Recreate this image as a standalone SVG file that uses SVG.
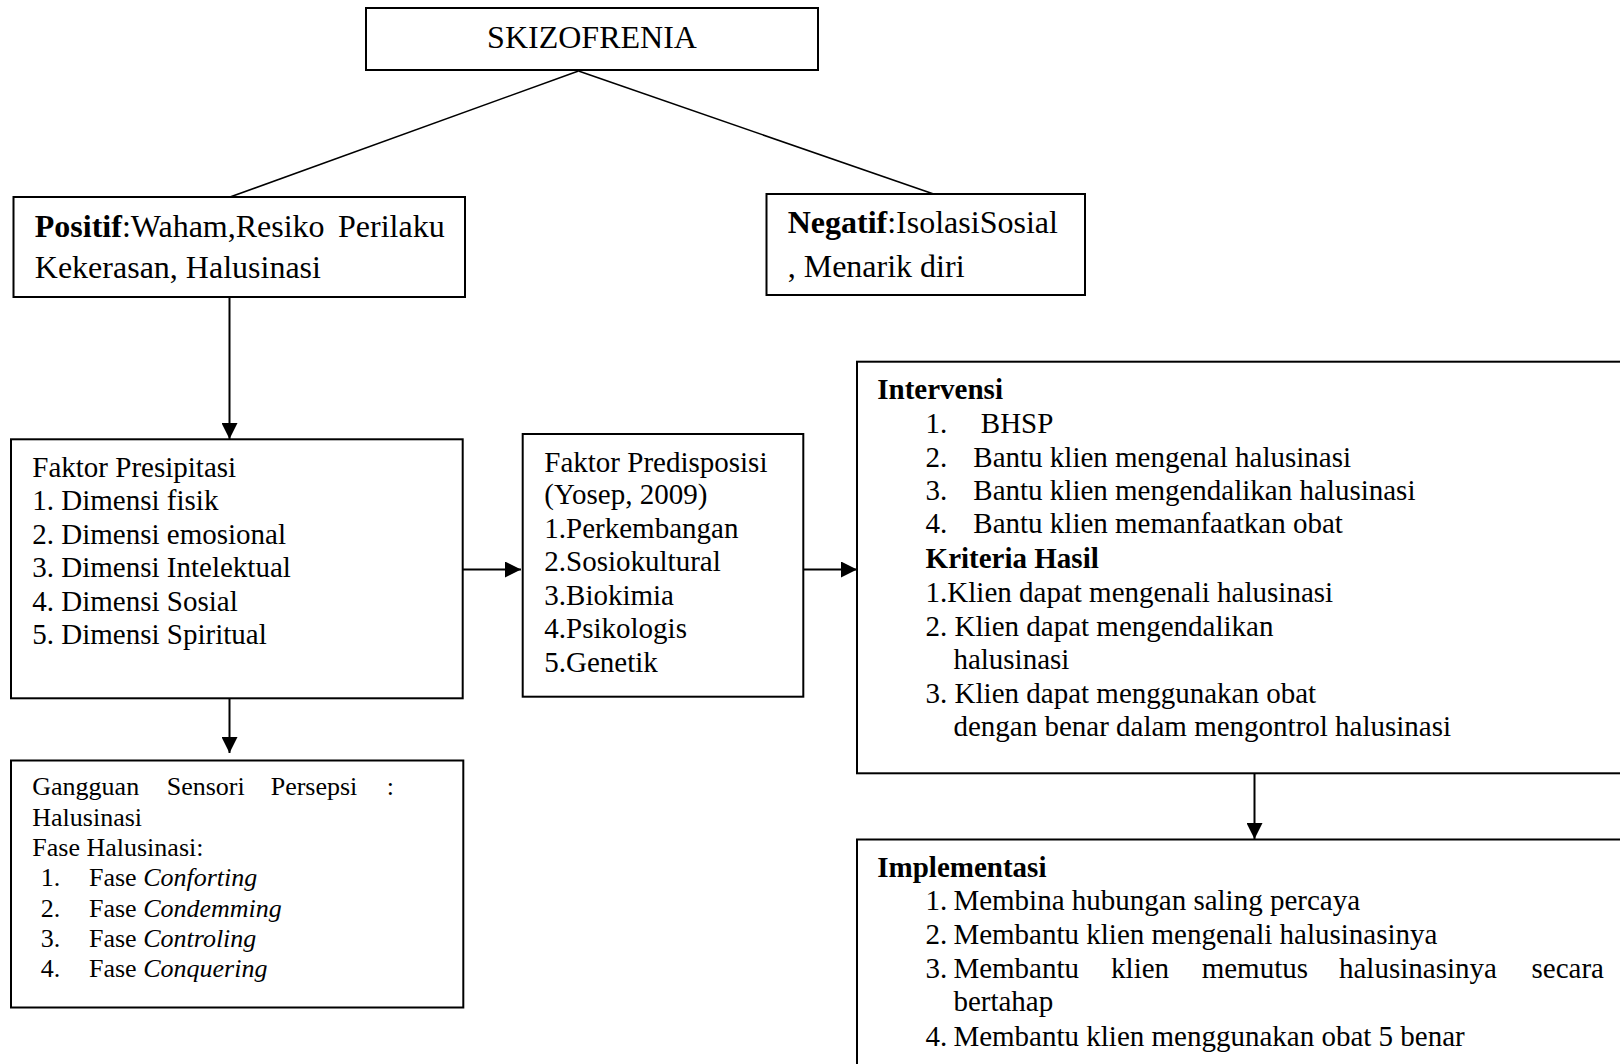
<svg xmlns="http://www.w3.org/2000/svg" width="1620" height="1064" viewBox="0 0 1620 1064">
<defs>
<marker id="arr" markerUnits="userSpaceOnUse" markerWidth="16" markerHeight="16" refX="16" refY="8" orient="auto">
<path d="M0,0 L16,8 L0,16 z" fill="#000"/>
</marker>
<style>
.box{fill:#fff;stroke:#000;stroke-width:2}
.t{font-family:"Liberation Serif","Times New Roman",serif;fill:#000}
.big{font-size:32px}
.mid{font-size:29px}
.sm{font-size:26px}
.b{font-weight:bold}
.i{font-style:italic}
.ln{stroke:#000;stroke-width:1.6;fill:none}
.ar{stroke:#000;stroke-width:2;fill:none;marker-end:url(#arr)}
</style>
</defs>
<rect width="1620" height="1064" fill="#fff"/>

<g id="connectors">
<line class="ln" x1="578.5" y1="71" x2="230" y2="197"/>
<line class="ln" x1="578.5" y1="71" x2="933.6" y2="194"/>
<line class="ar" x1="229.5" y1="297" x2="229.5" y2="439"/>
<line class="ar" x1="463" y1="569.5" x2="521" y2="569.5"/>
<line class="ar" x1="803.5" y1="569.5" x2="857" y2="569.5"/>
<line class="ar" x1="229.5" y1="698" x2="229.5" y2="753"/>
<line class="ar" x1="1254.5" y1="773" x2="1254.5" y2="839"/>
</g>

<g id="skizofrenia">
<rect class="box" x="366" y="8" width="452" height="62"/>
<text class="t big" x="592" y="48.3" text-anchor="middle">SKIZOFRENIA</text>
</g>

<g id="positif">
<rect class="box" x="13.5" y="197" width="451.5" height="100"/>
<text class="t big" y="236.5"><tspan x="34.8"><tspan class="b">Positif</tspan>:Waham,Resiko</tspan><tspan x="338">Perilaku</tspan></text>
<text class="t big" x="34.8" y="278.3">Kekerasan, Halusinasi</text>
</g>

<g id="negatif">
<rect class="box" x="766.5" y="194" width="318.5" height="101"/>
<text class="t big" x="787.7" y="233.3"><tspan class="b">Negatif</tspan>:IsolasiSosial</text>
<text class="t big" x="787.7" y="276.7">, Menarik diri</text>
</g>

<g id="presipitasi">
<rect class="box" x="11" y="439.3" width="451.7" height="259"/>
<text class="t mid" x="32.3" y="476.7">Faktor Presipitasi</text>
<text class="t mid" x="32.3" y="510">1. Dimensi fisik</text>
<text class="t mid" x="32.3" y="543.5">2. Dimensi emosional</text>
<text class="t mid" x="32.3" y="577">3. Dimensi Intelektual</text>
<text class="t mid" x="32.3" y="610.5">4. Dimensi Sosial</text>
<text class="t mid" x="32.3" y="644">5. Dimensi Spiritual</text>
</g>

<g id="predisposisi">
<rect class="box" x="522.7" y="434" width="280.6" height="262.7"/>
<text class="t mid" x="544.3" y="471.7">Faktor Predisposisi</text>
<text class="t mid" x="544.3" y="504">(Yosep, 2009)</text>
<text class="t mid" x="544.3" y="537.5">1.Perkembangan</text>
<text class="t mid" x="544.3" y="571">2.Sosiokultural</text>
<text class="t mid" x="544.3" y="604.5">3.Biokimia</text>
<text class="t mid" x="544.3" y="638">4.Psikologis</text>
<text class="t mid" x="544.3" y="671.5">5.Genetik</text>
</g>

<g id="gangguan">
<rect class="box" x="11" y="760.5" width="452.3" height="247"/>
<text class="t sm" y="795"><tspan x="32.3">Gangguan</tspan><tspan x="166.7">Sensori</tspan><tspan x="270.7">Persepsi</tspan><tspan x="386.7">:</tspan></text>
<text class="t sm" x="32.3" y="825.5">Halusinasi</text>
<text class="t sm" x="32.3" y="856">Fase Halusinasi:</text>
<text class="t sm" y="886"><tspan x="40.7">1.</tspan><tspan x="89">Fase <tspan class="i">Conforting</tspan></tspan></text>
<text class="t sm" y="916.5"><tspan x="40.7">2.</tspan><tspan x="89">Fase <tspan class="i">Condemming</tspan></tspan></text>
<text class="t sm" y="947"><tspan x="40.7">3.</tspan><tspan x="89">Fase <tspan class="i">Controling</tspan></tspan></text>
<text class="t sm" y="977.3"><tspan x="40.7">4.</tspan><tspan x="89">Fase <tspan class="i">Conquering</tspan></tspan></text>
</g>

<g id="intervensi">
<rect class="box" x="857" y="361.7" width="780" height="411.6"/>
<text class="t mid b" x="877.3" y="399.3">Intervensi</text>
<text class="t mid" y="432.7"><tspan x="925.6">1.</tspan><tspan x="980.8">BHSP</tspan></text>
<text class="t mid" y="466.7"><tspan x="925.6">2.</tspan><tspan x="973.3">Bantu klien mengenal halusinasi</tspan></text>
<text class="t mid" y="500"><tspan x="925.6">3.</tspan><tspan x="973.3">Bantu klien mengendalikan halusinasi</tspan></text>
<text class="t mid" y="533.3"><tspan x="925.6">4.</tspan><tspan x="973.3">Bantu klien memanfaatkan obat</tspan></text>
<text class="t mid b" x="925.6" y="568.3">Kriteria Hasil</text>
<text class="t mid" x="925.6" y="601.7">1.Klien dapat mengenali halusinasi</text>
<text class="t mid" x="925.6" y="635.5">2. Klien dapat mengendalikan</text>
<text class="t mid" x="953.4" y="668.5">halusinasi</text>
<text class="t mid" x="925.6" y="702.5">3. Klien dapat menggunakan obat</text>
<text class="t mid" x="953.4" y="736">dengan benar dalam mengontrol halusinasi</text>
</g>

<g id="implementasi">
<rect class="box" x="857" y="839.5" width="780" height="260"/>
<text class="t mid b" x="877.3" y="876.7">Implementasi</text>
<text class="t mid" y="910"><tspan x="925.6">1.</tspan><tspan x="953.4">Membina hubungan saling percaya</tspan></text>
<text class="t mid" y="944.3"><tspan x="925.6">2.</tspan><tspan x="953.4">Membantu klien mengenali halusinasinya</tspan></text>
<text class="t mid" y="978.3"><tspan x="925.6">3.</tspan><tspan x="953.4">Membantu</tspan><tspan x="1111.1">klien</tspan><tspan x="1201.7">memutus</tspan><tspan x="1339">halusinasinya</tspan><tspan x="1531.5">secara</tspan></text>
<text class="t mid" x="953.4" y="1010.7">bertahap</text>
<text class="t mid" y="1046"><tspan x="925.6">4.</tspan><tspan x="953.4">Membantu klien menggunakan obat 5 benar</tspan></text>
</g>
</svg>
